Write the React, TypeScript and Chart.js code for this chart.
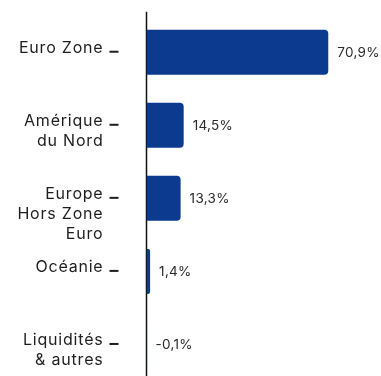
import React, { useEffect, useRef } from "react";
import { Chart, registerables } from "chart.js";

Chart.register(...registerables);

const categories: string[] = [
  "Euro Zone",
  "Amérique\ndu Nord",
  "Europe\nHors Zone\nEuro",
  "Océanie",
  "Liquidités\n& autres",
];
const values: number[] = [70.9, 14.5, 13.3, 1.4, -0.1];

const BAR_COLOR = "#0b3a8f";
const FONT = "Inter, 'Noto Sans', sans-serif";

const fmt = (v: number) => v.toFixed(1).replace(".", ",") + "%";

const decorPlugin = {
  id: "decor",
  beforeDatasetsDraw(chart: any) {
    const ctx = chart.ctx;
    const x0 = chart.scales.x.getPixelForValue(0);
    ctx.save();
    ctx.strokeStyle = "#111";
    ctx.lineWidth = 1.5;
    ctx.beginPath();
    ctx.moveTo(x0, chart.chartArea.top - 4);
    ctx.lineTo(x0, chart.height);
    ctx.stroke();
    ctx.restore();
  },
  afterDatasetsDraw(chart: any) {
    const ctx = chart.ctx;
    const xs = chart.scales.x;
    const ys = chart.scales.y;
    const x0 = xs.getPixelForValue(0);
    ctx.save();
    categories.forEach((cat, i) => {
      const cy = ys.getPixelForTick(i);
      const lines = cat.split("\n");
      ctx.font = `16px ${FONT}`;
      (ctx as any).letterSpacing = "0.8px";
      ctx.fillStyle = "#1e1e1e";
      ctx.textAlign = "right";
      ctx.textBaseline = "alphabetic";
      lines.forEach((l, j) => ctx.fillText(l, x0 - 43, cy + 0.5 + j * 20));
      ctx.fillRect(x0 - 37, cy - 1.5, 9, 2);
    });
    const meta = chart.getDatasetMeta(0);
    meta.data.forEach((bar: any, i: number) => {
      const v = values[i];
      const xe = xs.getPixelForValue(Math.max(v, 0));
      ctx.font = `13.5px ${FONT}`;
      (ctx as any).letterSpacing = "0.3px";
      ctx.fillStyle = "#2a2a2a";
      ctx.textAlign = "left";
      ctx.textBaseline = "middle";
      ctx.fillText(fmt(v), xe + 9, bar.y + 0.5);
    });
    ctx.restore();
  },
};

export default function App() {
  const ref = useRef<HTMLCanvasElement>(null);
  useEffect(() => {
    document.body.style.margin = "0";
    const chart = new Chart(ref.current!, {
      type: "bar",
      data: {
        labels: categories,
        datasets: [
          {
            data: values,
            backgroundColor: BAR_COLOR,
            borderRadius: 4,
            borderSkipped: "start",
            barPercentage: 0.616,
            categoryPercentage: 1,
          },
        ],
      },
      options: {
        indexAxis: "y",
        animation: false,
        responsive: true,
        maintainAspectRatio: false,
        layout: { padding: { left: 0, right: 29.4, top: 15.7, bottom: 0 } },
        plugins: { legend: { display: false }, tooltip: { enabled: false } },
        scales: {
          x: { display: false, min: 0, max: 80 },
          y: {
            ticks: { display: false },
            grid: { display: false },
            border: { display: false },
            afterFit: (s: any) => {
              s.width = 146.5;
            },
          },
        },
      },
      plugins: [decorPlugin],
    });
    return () => chart.destroy();
  }, []);
  return (
    <div style={{ position: "fixed", left: 0, top: 0, width: 381, height: 376, overflow: "hidden", background: "#fff" }}>
      <div style={{ width: 381, height: 381, position: "relative" }}>
        <canvas ref={ref} />
      </div>
    </div>
  );
}
